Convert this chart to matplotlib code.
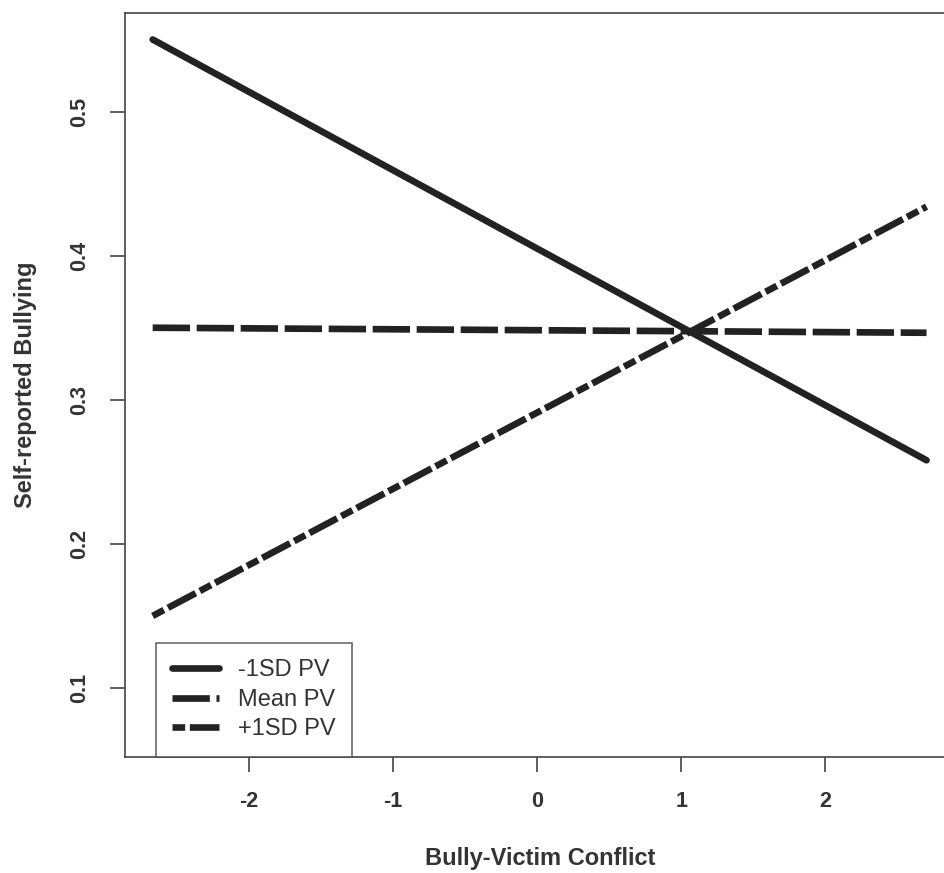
import matplotlib
matplotlib.use("Agg")
import matplotlib.pyplot as plt

plt.rcParams["font.family"] = ["Liberation Sans", "DejaVu Sans"]

INK = "#222222"
TXT = "#333333"

# predictor range (bully-victim conflict) and predicted bullying at each PV level
x_vals = [-2.665, 2.702]
low_pv = [0.550, 0.258]
mean_pv = [0.350, 0.3465]
high_pv = [0.150, 0.434]
labels = ["-1SD PV", "Mean PV", "+1SD PV"]

x_ticks = [-2, -1, 0, 1, 2]
y_ticks = [0.1, 0.2, 0.3, 0.4, 0.5]

fig = plt.figure(figsize=(9.45, 8.73), dpi=100)
fig.patch.set_facecolor("white")
# the right side of the box runs past the edge of the picture, as in the original
ax = fig.add_axes([125 / 945, 1 - 757 / 873, 833 / 945, 744 / 873])

lw = 4.8
ax.plot(x_vals, low_pv, color=INK, linewidth=lw, solid_capstyle="round",
        label=labels[0])
ax.plot(x_vals, mean_pv, color=INK, linewidth=lw, dashes=(5.6, 1.0),
        dash_capstyle="butt", label=labels[1])
ax.plot(x_vals, high_pv, color=INK, linewidth=lw, dashes=(1.9, 0.7, 4.7, 0.7),
        dash_capstyle="butt", label=labels[2])

ax.set_xlim(-2.857, 2.92)
ax.set_ylim(0.0521, 0.5684)

ax.set_xticks(x_ticks)
ax.set_xticklabels([str(t) for t in x_ticks], fontweight="bold", fontsize=15.5, color=TXT)
ax.set_yticks(y_ticks)
ax.set_yticklabels([f"{t:.1f}" for t in y_ticks], fontweight="bold", fontsize=15.5,
                   color=TXT, rotation=90, va="center")
ax.tick_params(axis="both", length=10.8, width=1.2, color="#444444", pad=14)

for s in ax.spines.values():
    s.set_color("#444444")
    s.set_linewidth(1.2)

fig.text(540 / 945, 1 - 858 / 873, "Bully-Victim Conflict", ha="center", va="center",
         fontsize=17, fontweight="bold", color=TXT)
fig.text(26 / 945, 1 - 385 / 873, "Self-reported Bullying", ha="center", va="center",
         rotation=90, fontsize=17, fontweight="bold", color=TXT)

leg = ax.legend(loc="lower left", bbox_to_anchor=((155.7 - 125) / 833, 0.0),
                borderaxespad=0, fancybox=False, fontsize=17, labelcolor=TXT,
                handlelength=2.0, handletextpad=0.8, borderpad=0.7, labelspacing=0.32)
leg.get_frame().set_edgecolor("#444444")
leg.get_frame().set_linewidth(1.2)

fig.savefig("out.png", dpi=100, facecolor="white")
